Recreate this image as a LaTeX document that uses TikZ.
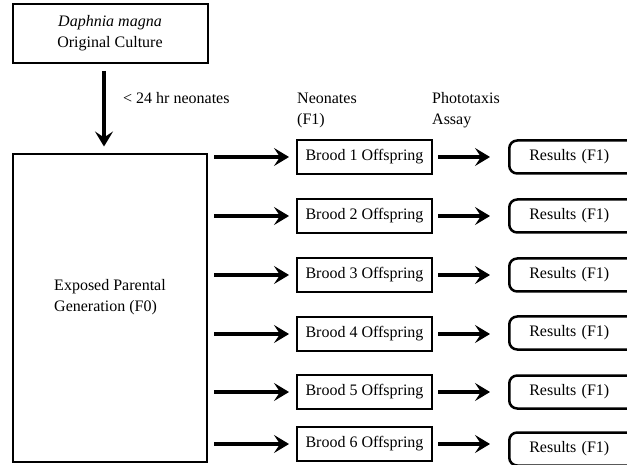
\documentclass[tikz,border=0pt]{standalone}
\usepackage{fontspec}
\setmainfont{Liberation Serif}
\usetikzlibrary{arrows.meta}
\begin{document}
\begin{tikzpicture}[x=1pt, y=-1pt, font=\fontsize{16}{21}\selectfont,
	box/.style={draw, line width=2pt, inner sep=0pt},
	brood/.style={box, minimum width=135pt, minimum height=34pt},
	rbox/.style={draw, line width=2.5pt, rounded corners=8pt, anchor=west, inner xsep=20pt, inner ysep=0pt, text width=110pt, align=left, minimum height=33pt},
	txt/.style={inner sep=0pt, align=left},
	arr/.style={line width=4pt, -{Stealth[length=15pt, width=18pt, inset=6pt]}},
	arrin/.style={arr, shorten <=6pt, shorten >=7pt},
	arrout/.style={arr, shorten <=5pt, shorten >=18pt}]
	\useasboundingbox (0,0) rectangle (627,465);
	\clip (0,0) rectangle (627,465);
	\node[box, minimum width=195pt, minimum height=59pt, align=center] (orig) at (110,33.5) {\textit{Daphnia magna}\\Original Culture};
	\node[box, minimum width=194pt, minimum height=307pt, label={[txt, yshift=11pt]center:Exposed Parental\\Generation (F0)}] (f0) at (110,308) {};
	\node[txt, anchor=west] (age) at (123,98) {< 24 hr neonates};
	\node[txt, anchor=west] (neo) at (297,110.5) {Neonates\\(F1)};
	\node[txt, anchor=west] (assay) at (432,110.5) {Phototaxis\\Assay};
	\draw[arr, shorten <=7pt, shorten >=7pt] ([xshift=-6pt]orig.south) -- ([xshift=-6pt]orig.south |- f0.north);
	\node[brood] (b1) at (364.5,157) {Brood 1 Offspring};
	\node[brood] (b2) at (364.5,216) {Brood 2 Offspring};
	\node[brood] (b3) at (364.5,275) {Brood 3 Offspring};
	\node[brood] (b4) at (364.5,334) {Brood 4 Offspring};
	\node[brood] (b5) at (364.5,392) {Brood 5 Offspring};
	\node[brood] (b6) at (364.5,444) {Brood 6 Offspring};
	\node[rbox] (r1) at (508,157) {Results (F1)};
	\node[rbox] (r2) at (508,216) {Results (F1)};
	\node[rbox] (r3) at (508,275) {Results (F1)};
	\node[rbox] (r4) at (508,333) {Results (F1)};
	\node[rbox] (r5) at (508,392) {Results (F1)};
	\node[rbox] (r6) at (508,449) {Results (F1)};
	\draw[arrin] (f0.east |- b1.west) -- (b1.west);
	\draw[arrin] (f0.east |- b2.west) -- (b2.west);
	\draw[arrin] (f0.east |- b3.west) -- (b3.west);
	\draw[arrin] (f0.east |- b4.west) -- (b4.west);
	\draw[arrin] (f0.east |- b5.west) -- (b5.west);
	\draw[arrin] (f0.east |- b6.west) -- (b6.west);
	\draw[arrout] (b1.east) -- (b1.east -| r1.west);
	\draw[arrout] (b2.east) -- (b2.east -| r2.west);
	\draw[arrout] (b3.east) -- (b3.east -| r3.west);
	\draw[arrout] (b4.east) -- (b4.east -| r4.west);
	\draw[arrout] (b5.east) -- (b5.east -| r5.west);
	\draw[arrout] (b6.east) -- (b6.east -| r6.west);
\end{tikzpicture}
\end{document}
